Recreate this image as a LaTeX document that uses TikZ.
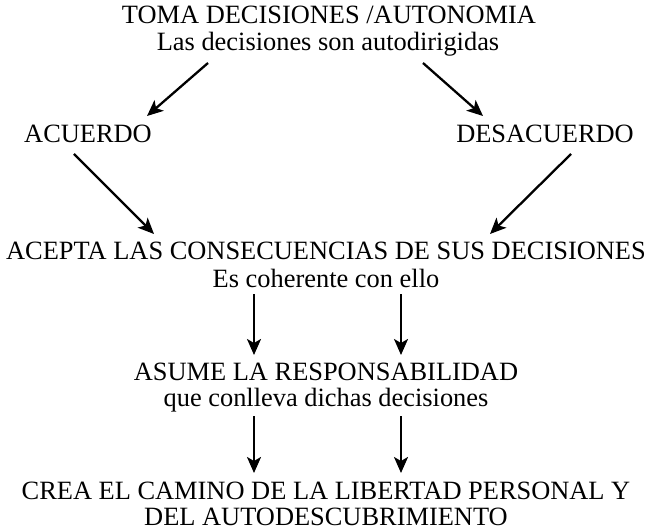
\documentclass[tikz,border=0pt]{standalone}
\usepackage{fontspec}
\setmainfont{Liberation Serif}
\usetikzlibrary{arrows.meta, calc}

\begin{document}
\begin{tikzpicture}[x=1bp, y=-1bp,
  txt/.style={anchor=base, inner sep=0pt, font=\fontsize{26.5}{28}\selectfont},
  flecha/.style={line width=2.3pt, -{Stealth[length=16bp,width=14bp,inset=4bp]}}]
\useasboundingbox (0,0) rectangle (651,532);
% texto
\node[txt] (toma) at (329,24) {TOMA DECISIONES /AUTONOMIA};
\node[txt] (lasdec) at (328,51) {Las decisiones son autodirigidas};
\node[txt] (acuerdo) at (88,143) {ACUERDO};
\node[txt] (desacuerdo) at (545,143) {DESACUERDO};
\node[txt] (acepta) at (326,260) {ACEPTA LAS CONSECUENCIAS DE SUS DECISIONES};
\node[txt] (coherente) at (326,287) {Es coherente con ello};
\node[txt] (asume) at (326,380) {ASUME LA RESPONSABILIDAD};
\node[txt] (conlleva) at (326,406) {que conlleva dichas decisiones};
\node[txt] (crea) at (326,499) {CREA EL CAMINO DE LA LIBERTAD PERSONAL Y};
\node[txt] (autodes) at (326,525) {DEL AUTODESCUBRIMIENTO};
% flechas
\draw[flecha] ($(lasdec.base)+(-120,12)$) -- ($(acuerdo.base)+(59,-27)$);
\draw[flecha] ($(lasdec.base)+(95,12)$) -- ($(desacuerdo.base)+(-62,-27)$);
\draw[flecha] ($(acuerdo.base)+(-14,11)$) -- ($(acepta.base)+(-172,-26)$);
\draw[flecha] ($(desacuerdo.base)+(26,11)$) -- ($(acepta.base)+(164,-26)$);
\draw[flecha] ($(coherente.base)+(-72,7)$) -- ($(asume.base)+(-72,-25)$);
\draw[flecha] ($(coherente.base)+(75,7)$) -- ($(asume.base)+(75,-25)$);
\draw[flecha] ($(conlleva.base)+(-72,10)$) -- ($(crea.base)+(-72,-26)$);
\draw[flecha] ($(conlleva.base)+(75,10)$) -- ($(crea.base)+(75,-26)$);
\end{tikzpicture}
\end{document}
